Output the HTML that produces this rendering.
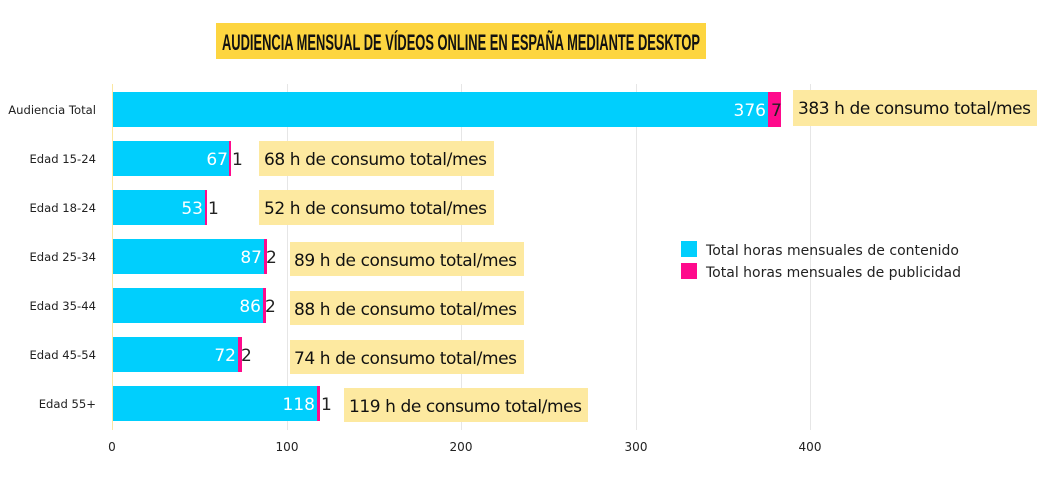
<!DOCTYPE html>
<html><head><meta charset="utf-8"><style>
body{margin:0;background:#fff;}
svg text{font-family:"DejaVu Sans","Liberation Sans",sans-serif;}
</style></head><body>
<svg width="1051" height="479" xmlns="http://www.w3.org/2000/svg">
<rect x="216" y="23" width="490" height="36" fill="#fdd540"/>
<text x="222" y="50" font-weight="bold" font-size="22" fill="#111" style="font-family:'Liberation Sans',sans-serif" textLength="478" lengthAdjust="spacingAndGlyphs">AUDIENCIA MENSUAL DE VÍDEOS ONLINE EN ESPAÑA MEDIANTE DESKTOP</text>
<g stroke="#e6e6e6" stroke-width="1">
<line x1="287.5" y1="84" x2="287.5" y2="430"/><line x1="461.5" y1="84" x2="461.5" y2="430"/><line x1="636.5" y1="84" x2="636.5" y2="430"/><line x1="810.5" y1="84" x2="810.5" y2="430"/>
</g>
<line x1="112.5" y1="84" x2="112.5" y2="430" stroke="#fbe7a0"/>
<g font-size="12" fill="#222" text-anchor="middle">
<text x="112" y="451">0</text><text x="287" y="451">100</text><text x="461" y="451">200</text><text x="636" y="451">300</text><text x="810" y="451">400</text>
</g>
<g font-size="11.6" fill="#222" text-anchor="end">
<text x="96" y="114">Audiencia Total</text><text x="96" y="163">Edad 15-24</text><text x="96" y="212">Edad 18-24</text><text x="96" y="261">Edad 25-34</text><text x="96" y="310">Edad 35-44</text><text x="96" y="359">Edad 45-54</text><text x="96" y="408">Edad 55+</text>
</g>
<g fill="#00cffd">
<rect x="113" y="92" width="655" height="35"/><rect x="113" y="141" width="116" height="35"/><rect x="113" y="190" width="92" height="35"/><rect x="113" y="239" width="151" height="35"/><rect x="113" y="288" width="150" height="35"/><rect x="113" y="337" width="125" height="35"/><rect x="113" y="386" width="204" height="35"/>
</g>
<g fill="#ff0a8c">
<rect x="768" y="92" width="13" height="35"/><rect x="229" y="141" width="2" height="35"/><rect x="205" y="190" width="2" height="35"/><rect x="264" y="239" width="3" height="35"/><rect x="263" y="288" width="3" height="35"/><rect x="238" y="337" width="4" height="35"/><rect x="317" y="386" width="3" height="35"/>
</g>
<g font-size="17" fill="#fff" text-anchor="end">
<text x="766" y="116">376</text><text x="228" y="165">67</text><text x="203" y="214">53</text><text x="262" y="263">87</text><text x="261" y="312">86</text><text x="236" y="361">72</text><text x="315" y="410">118</text>
</g>
<g font-size="17" fill="#222">
<text x="771" y="116">7</text><text x="232" y="165">1</text><text x="208" y="214">1</text><text x="266" y="263">2</text><text x="265" y="312">2</text><text x="241" y="361">2</text><text x="321" y="410">1</text>
</g>
<g fill="#fde9a0">
<rect x="793" y="90" width="244" height="36"/><rect x="259" y="141" width="235" height="35"/><rect x="259" y="190" width="235" height="35"/><rect x="290" y="242" width="234" height="34"/><rect x="290" y="291" width="234" height="34"/><rect x="290" y="340" width="234" height="34"/><rect x="344" y="388" width="244" height="34"/>
</g>
<g font-size="17" fill="#111" lengthAdjust="spacingAndGlyphs">
<text x="798" y="114" textLength="233">383 h de consumo total/mes</text><text x="264" y="165" textLength="223">68 h de consumo total/mes</text><text x="264" y="214" textLength="223">52 h de consumo total/mes</text><text x="294" y="266" textLength="223">89 h de consumo total/mes</text><text x="294" y="315" textLength="223">88 h de consumo total/mes</text><text x="294" y="364" textLength="223">74 h de consumo total/mes</text><text x="349" y="412" textLength="233">119 h de consumo total/mes</text>
</g>
<rect x="681" y="241" width="16" height="16" fill="#00cffd"/>
<rect x="681" y="263" width="16" height="16" fill="#ff0a8c"/>
<g font-size="14" fill="#222">
<text x="706" y="255" textLength="253">Total horas mensuales de contenido</text>
<text x="706" y="277" textLength="255">Total horas mensuales de publicidad</text>
</g>
</svg>
</body></html>
